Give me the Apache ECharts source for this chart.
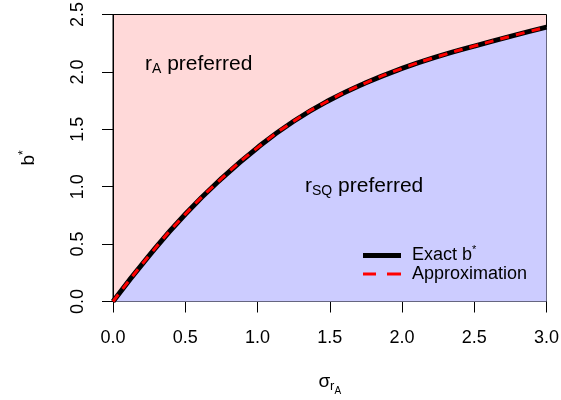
<!DOCTYPE html>
<html>
<head>
<meta charset="utf-8">
<script src="https://cdn.jsdelivr.net/npm/echarts@6/dist/echarts.min.js"></script>
<style>
html,body{margin:0;padding:0;background:#fff;}
#c{width:561px;height:400px;}
</style>
</head>
<body>
<div id="c"></div>
<script>
var sigma = [0, 0.25, 0.5, 0.75, 1.0, 1.25, 1.5, 1.75, 2.0, 2.25, 2.5, 2.75, 3.0];
var exactB = [0, 0.40, 0.76, 1.07, 1.34, 1.57, 1.755, 1.905, 2.03, 2.135, 2.225, 2.31, 2.39];
var approxB = [0, 0.40, 0.76, 1.07, 1.34, 1.57, 1.755, 1.905, 2.03, 2.135, 2.225, 2.31, 2.39];
var xTicks = [0, 0.5, 1, 1.5, 2, 2.5, 3];
var yTicks = [0, 0.5, 1, 1.5, 2, 2.5];

var FONT = 'Liberation Sans, Arial, Helvetica, sans-serif';
function pairs(xs, ys){ return xs.map(function(x,i){ return [x, ys[i]]; }); }

var chart = echarts.init(document.getElementById('c'), null, {renderer:'canvas'});
var legendText = {color: '#000', fontSize: 18, fontFamily: FONT,
  rich: {
    t: {fontSize: 18, fontFamily: FONT, color: '#000', padding: [0,0,0,6]},
    s: {fontSize: 11, fontFamily: FONT, color: '#000', padding: [0,0,12,0]}
  }};
var legendFmt = function(n){ return n === 'exact' ? '{t|Exact b}{s|*}' : '{t|Approximation}'; };
var option = {
  animation: false,
  backgroundColor: '#ffffff',
  textStyle: {fontFamily: FONT},
  grid: {left: 113, right: 14.5, top: 14.5, bottom: 98.5, show: true, outerBoundsMode: 'none',
         containLabel: false,
         backgroundColor: 'rgb(255,217,217)', borderColor: '#000', borderWidth: 1},
  xAxis: {
    type: 'value', min: 0, max: 3, interval: 0.5,
    axisLine: {show: true, onZero: false, lineStyle: {color: '#000', width: 1}},
    axisTick: {show: true, length: 11, lineStyle: {color: '#000'}},
    splitLine: {show: false},
    axisLabel: {color: '#000', fontSize: 18, fontFamily: FONT, margin: 28,
      formatter: function(v){ return v.toFixed(1); }},
    name: '{s|σ}{r|r}{a|A}', nameLocation: 'middle', nameGap: 65,
    nameTextStyle: {rich: {
      s: {fontSize: 19, fontFamily: FONT, color: '#000'},
      r: {fontSize: 13, fontFamily: FONT, color: '#000', padding: [10,0,0,0]},
      a: {fontSize: 10, fontFamily: FONT, color: '#000', padding: [20,0,0,0]}
    }}
  },
  yAxis: {
    type: 'value', min: 0, max: 2.5, interval: 0.5,
    axisLine: {show: true, onZero: false, lineStyle: {color: '#000', width: 1}},
    axisTick: {show: true, length: 11, lineStyle: {color: '#000'}},
    splitLine: {show: false},
    axisLabel: {color: '#000', fontSize: 18, fontFamily: FONT, rotate: 90, margin: 26,
      formatter: function(v){ return v.toFixed(1); }},
    name: '{b|b}{s|*}', nameLocation: 'middle', nameGap: 73, nameRotate: 90,
    nameTextStyle: {rich: {
      b: {fontSize: 19, fontFamily: FONT, color: '#000'},
      s: {fontSize: 12, fontFamily: FONT, color: '#000', padding: [0,0,10,0]}
    }}
  },
  legend: [
    {
      orient: 'vertical', left: 358, top: 239, itemWidth: 38, itemHeight: 5,
      data: [{name: 'exact', icon: 'path://M0,0H38V5H0Z'}],
      textStyle: legendText, formatter: legendFmt
    },
    {
      orient: 'vertical', left: 358, top: 260, itemWidth: 38, itemHeight: 3,
      data: [{name: 'approx', icon: 'path://M0,0H13V3H0Z M24,0H38V3H24Z'}],
      textStyle: legendText, formatter: legendFmt
    }
  ],
  series: [
    {
      name: 'exact', type: 'line', smooth: true, symbol: 'none',
      data: pairs(sigma, exactB),
      lineStyle: {color: '#000', width: 5},
      itemStyle: {color: '#000'},
      areaStyle: {color: 'rgb(204,204,255)', opacity: 1, origin: 'start'},
      z: 2
    },
    {
      name: 'approx', type: 'line', smooth: true, symbol: 'none',
      data: pairs(sigma, approxB),
      lineStyle: {color: '#ff0000', width: 3, type: [9, 7]},
      itemStyle: {color: '#ff0000'},
      z: 3
    }
  ],
  graphic: [
    {type: 'text', left: 145, top: 54, z: 10,
     style: {text: '{r|r}{a|A}{p| preferred}', rich: {
       r: {fontSize: 21, fontFamily: FONT, fill: '#000'},
       a: {fontSize: 14, fontFamily: FONT, fill: '#000', padding: [9,0,0,0]},
       p: {fontSize: 21, fontFamily: FONT, fill: '#000'}
     }}},
    {type: 'text', left: 305, top: 176, z: 10,
     style: {text: '{r|r}{a|SQ}{p| preferred}', rich: {
       r: {fontSize: 21, fontFamily: FONT, fill: '#000'},
       a: {fontSize: 14, fontFamily: FONT, fill: '#000', padding: [9,0,0,0]},
       p: {fontSize: 21, fontFamily: FONT, fill: '#000'}
     }}}
  ]
};
chart.setOption(option);
</script>
</body>
</html>
